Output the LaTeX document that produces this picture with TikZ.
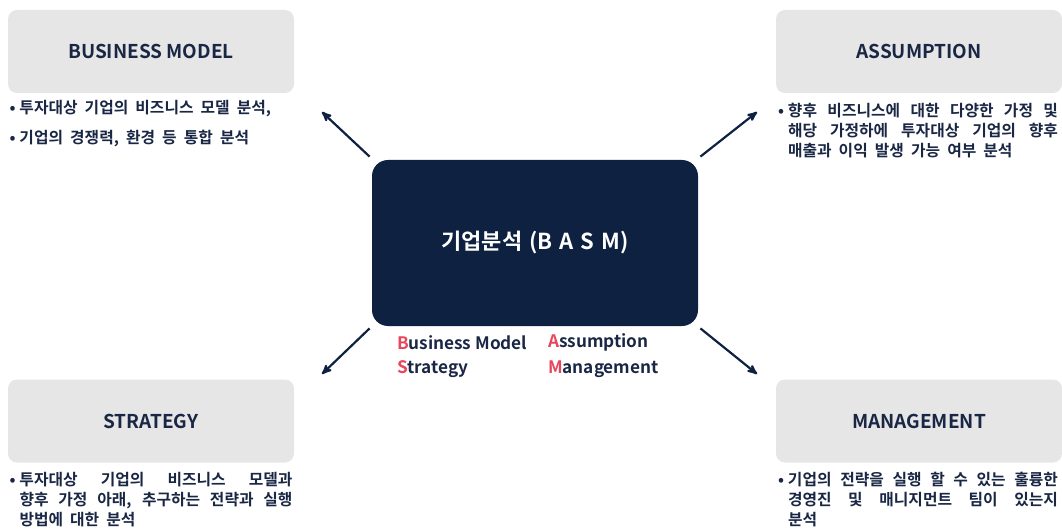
\documentclass[tikz,border=0pt]{standalone}
\usepackage{fontspec}
\setmainfont{Noto Sans CJK KR}[BoldFont={Noto Sans CJK KR Bold}]
\usepackage{xcolor}
\usetikzlibrary{arrows}
\definecolor{navy}{HTML}{0E2141}
\definecolor{inknavy}{HTML}{1A2744}
\definecolor{basmred}{HTML}{E8465C}
\definecolor{boxgray}{HTML}{E6E6E6}
\newcommand{\fl}[1]{\textcolor{basmred}{#1}}
\newcommand{\itembul}{\noindent\hangindent=10pt\hangafter=1\makebox[10pt][l]{•}}
\newcommand{\titlesp}{\spaceskip=0.32em plus 0.2em\relax}
\newcommand{\bodysp}{\spaceskip=0.45em plus 1em minus 0.28em\relax}

\begin{document}
\begin{tikzpicture}[x=1pt, y=1pt, >=stealth', node distance=384pt, thick]
      \tikzstyle{line} = [draw=navy, line width=2.2pt, ->]
      \tikzstyle{main node} = [rectangle, rounded corners=16pt, fill=navy, minimum width=326pt, minimum height=166pt,
         text=white, font=\bfseries\fontsize{22}{26}\selectfont\titlesp]
      \tikzstyle{head node} = [rectangle, rounded corners=9pt, fill=boxgray, minimum width=286pt, minimum height=83pt,
         text=inknavy, font=\bfseries\fontsize{19}{22}\selectfont]
      \tikzstyle{text node} = [inner sep=0pt, anchor=north west, text width=283pt, align=justify, text=inknavy,
         font=\bfseries\fontsize{15.8}{20}\selectfont\bodysp]
      \tikzstyle{key node} = [inner sep=0pt, anchor=west, text=inknavy, font=\bfseries\fontsize{17.2}{20}\selectfont]

      \useasboundingbox (0,0) rectangle (1062,531);

      %nodes
      \node[main node]            (basm)        at (535,288)                    {기업분석 (B A S M)};
      \node[head node]            (business)    [left of=basm, yshift=191.5pt]  {BUSINESS MODEL};
      \node[head node]            (assumption)  [right of=basm, yshift=191.5pt] {ASSUMPTION};
      \node[head node]            (strategy)    [left of=basm, yshift=-178pt]   {STRATEGY};
      \node[head node]            (management)  [right of=basm, yshift=-178pt]  {MANAGEMENT};

      \node[text node] (business text) at ([xshift=1.5pt, yshift=-6pt]business.south west)
         {\itembul 투자대상 기업의 비즈니스 모델 분석,\par\vspace{10pt}\itembul 기업의 경쟁력, 환경 등 통합 분석\par};
      \node[text node, text width=280pt] (assumption text) at ([xshift=2pt, yshift=-9pt]assumption.south west)
         {\itembul 향후 비즈니스에 대한 다양한 가정 및\linebreak 해당 가정하에 투자대상 기업의 향후\linebreak 매출과 이익 발생 가능 여부 분석\par};
      \node[text node] (strategy text) at ([xshift=1.5pt, yshift=-9pt]strategy.south west)
         {\itembul 투자대상 기업의 비즈니스 모델과\linebreak 향후 가정 아래, 추구하는 전략과 실행\linebreak 방법에 대한 분석\par};
      \node[text node, text width=280pt] (management text) at ([xshift=2pt, yshift=-9pt]management.south west)
         {\itembul 기업의 전략을 실행 할 수 있는 훌륭한\linebreak 경영진 및 매니지먼트 팀이 있는지\linebreak 분석\par};

      \node[key node] (b key) at ([xshift=25pt, yshift=-16pt]basm.south west) {\fl{B}usiness Model};
      \node[key node] (s key) at ([yshift=-27pt]b key.west)                  {\fl{S}trategy};
      \node[key node] (a key) at ([xshift=151pt]b key.west)                  {\fl{A}ssumption};
      \node[key node] (m key) at ([xshift=151pt]s key.west)                  {\fl{M}anagement};

      %lines
      \coordinate (business tip)   at (322,419);
      \coordinate (assumption tip) at (757,419);
      \coordinate (strategy tip)   at (322,157);
      \coordinate (management tip) at (757,157);
      \draw [line] ([xshift=-2pt, yshift=3pt]basm.north west)  -- (business tip);
      \draw [line] ([xshift=2pt, yshift=3pt]basm.north east)   -- (assumption tip);
      \draw [line] ([xshift=-2pt, yshift=-2pt]basm.south west) -- (strategy tip);
      \draw [line] ([xshift=2pt, yshift=-2pt]basm.south east)  -- (management tip);
    \end{tikzpicture}
\end{document}
